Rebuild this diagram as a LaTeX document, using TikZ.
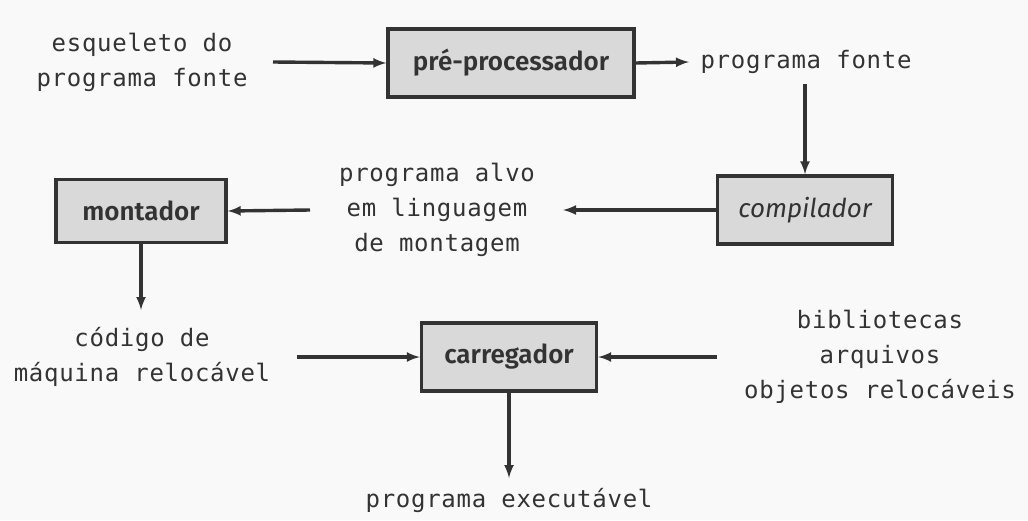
\documentclass[tikz,border=0pt]{standalone}
\usepackage{fontspec}
\setmainfont{Fira Sans}
\setsansfont[BoldFont={Fira Sans SemiBold}]{Fira Sans}
\setmonofont[LetterSpace=3]{DejaVu Sans Mono}
\definecolor{pagegray}{HTML}{F9F9F9}
\definecolor{boxgray}{HTML}{D9D9D9}
\definecolor{inkgray}{HTML}{333333}
\begin{document}
\begin{tikzpicture}[>=latex, x=1pt, y=-1pt, font=\ttfamily\fontsize{24}{35}\selectfont]
    % Cadeia de tradução: do esqueleto ao programa executável
    \tikzset{stage/.style={draw=inkgray, fill=boxgray, line width=3.4pt, minimum height=68pt, text=inkgray, font=\sffamily\fontsize{26}{30}\selectfont\bfseries},
             label/.style={align=center, text=inkgray, inner sep=0pt},
             flow/.style={->, draw=inkgray, line width=3.4pt}}
    \fill[pagegray] (0,0) rectangle (1028,520);
    \useasboundingbox (0,0) rectangle (1028,520);
    % caixas
    \node[stage, minimum width=246pt] (prep) at (511,63) {pré-processador};
    \node[stage, minimum width=175pt, font=\sffamily\fontsize{26}{30}\selectfont\itshape] (comp) at (805,210) {compilador};
    \node[stage, minimum width=170pt, minimum height=63pt] (mont) at (141,211) {montador};
    \node[stage, minimum width=175pt] (carr) at (509,357) {carregador};
    % textos
    \node[label] (esq) at (142,62) {esqueleto do\\programa fonte};
    \node[label] (fonte) at (806,62) {programa fonte};
    \node[label] (alvo) at (437,210) {programa alvo\\em linguagem\\de montagem};
    \node[label] (reloc) at (142,357) {código de\\máquina relocável};
    \node[label] (bib) at (880,357) {bibliotecas\\arquivos\\objetos relocáveis};
    \node[label] (exec) at (509,500) {programa executável};
    % ligações
    \coordinate (esqR) at (273,62);
    \coordinate (fonteL) at (689,62);
    \coordinate (fonteB) at (805,84);
    \coordinate (alvoR) at (563,210);
    \coordinate (alvoL) at (310,210);
    \coordinate (relocT) at (141,310);
    \coordinate (relocR) at (297,357);
    \coordinate (bibL) at (717,357);
    \coordinate (execT) at (509,478);
    \draw[flow] (esqR) -- (prep.west);
    \draw[flow] (prep.east) -- (fonteL);
    \draw[flow] (fonteB) -- (comp.north);
    \draw[flow] (comp.west) -- (alvoR);
    \draw[flow] (alvoL) -- (mont.east);
    \draw[flow] (mont.south) -- (relocT);
    \draw[flow] (relocR) -- (carr.west);
    \draw[flow] (bibL) -- (carr.east);
    \draw[flow] (carr.south) -- (execT);
\end{tikzpicture}
\end{document}
